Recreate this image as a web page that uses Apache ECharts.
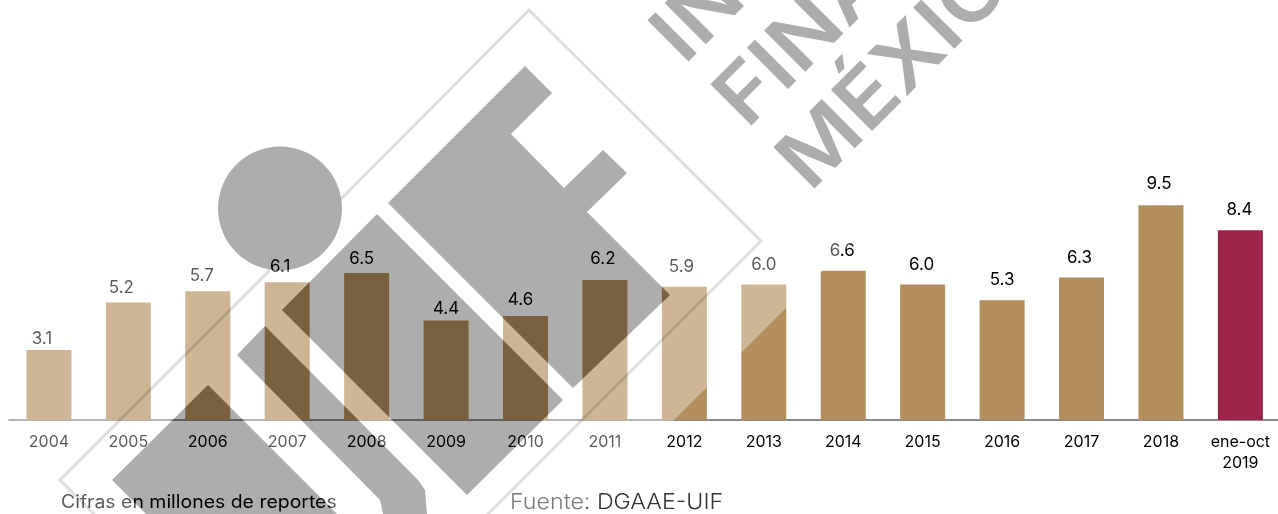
<!DOCTYPE html>
<html><head><meta charset="utf-8">
<style>html,body{margin:0;padding:0;background:#fff;overflow:hidden;width:1278px;height:514px}#c{width:1292px;height:514px}</style>
<script src="https://cdn.jsdelivr.net/npm/echarts@6/dist/echarts.min.js"></script>
</head><body><div id="c"></div>
<script>
const categories = ['2004','2005','2006','2007','2008','2009','2010','2011','2012','2013','2014','2015','2016','2017','2018','ene-oct\n2019'];
const values = [3.1,5.2,5.7,6.1,6.5,4.4,4.6,6.2,5.9,6.0,6.6,6.0,5.3,6.3,9.5,8.4];
const labelNudgeX = [-7,-7,-6,-7,-5,0,-5,-2,-3,0,-1,-1,0,-2,-2,-1];
const labelNudgeY = [2,-1.5,-2,-2,-1,2,-3,-7,-6,-6,-6,-6,-7,-6,-8,-7];
const barColor = '#B38E5D', lastColor = '#9D2449';
const FONT = 'Inter, "Open Sans", sans-serif';

// Watermark geometry (decorative overlay, screen pixels)
const shapeA = [[525,66],[552,93],[511,134],[564,188],[603,150],[627,173],[587,212],[670,295],[573,388],[388,203]];
const shapeB = [[377,214],[563,400],[467,495],[282,310]];
const shapeC = [[237,355],[265,326],[418,480],[425,490],[427,514],[383,514],[380,500]];
const shapeD = [[208,385],[337,514],[146,514],[112,480]];
const circle = []; for (let i=0;i<64;i++){const a=i/64*2*Math.PI; circle.push([280+62*Math.cos(a),208.5+62*Math.sin(a)]);}
const washOuter = [[0,0],[1094,0],[580,514],[0,514]];
const outline = [[341,199],[529,10],[761,241],[291,711],[60,480],[270,270]];

function area(p){let s=0;for(let i=0;i<p.length;i++){const q=p[(i+1)%p.length];s+=p[i][0]*q[1]-q[0]*p[i][1];}return s;}
function sub(p,positive){const r=(area(p)>0)===positive?p:p.slice().reverse();return 'M'+r.map(a=>a[0].toFixed(1)+' '+a[1].toFixed(1)).join('L')+'Z';}
const grays=[shapeA,shapeB,shapeC,shapeD,circle];
const washPath = sub(washOuter,true)+grays.map(s=>sub(s,false)).join('');
const grayPath = grays.map(s=>sub(s,true)).join('');
function bbox(list){const a=list.flat();const xs=a.map(p=>p[0]),ys=a.map(p=>p[1]);const x=Math.min(...xs),y=Math.min(...ys);return {x,y,width:Math.max(...xs)-x,height:Math.max(...ys)-y};}
function overlay(d,box,fill){return {type:'custom',coordinateSystem:'none',z:100,silent:true,data:[0],clip:false,
  renderItem:()=>({type:'path',shape:{pathData:d,layout:'cover',x:box.x,y:box.y,width:box.width,height:box.height},style:{fill},silent:true})};}
function wmText(t,x,y){return {type:'text',x,y,rotation:Math.PI/4,scaleX:1.1,z:101,silent:true,
  style:{text:t,fill:'#adadad',font:'600 80px '+FONT,align:'left',verticalAlign:'middle'}};}

const chart = echarts.init(document.getElementById('c'),null,{renderer:'canvas'});
chart.setOption({
  animation:false,
  backgroundColor:'#fff',
  grid:{left:9.2,width:1270.9,top:194,height:226,containLabel:false},
  xAxis:{type:'category',data:categories,offset:1,
    axisLine:{show:true,lineStyle:{color:'#8a8a8a',width:2}},axisTick:{show:false},
    axisLabel:{color:'#000',fontFamily:FONT,fontSize:16,margin:11,lineHeight:21,interval:0}},
  yAxis:{type:'value',min:0,max:10,show:false,splitLine:{show:false}},
  series:[{type:'bar',barWidth:45,
    data:values.map((v,i)=>({value:v,
      itemStyle:{color:i===values.length-1?lastColor:barColor},
      label:{offset:[labelNudgeX[i],labelNudgeY[i]]}})),
    label:{show:true,position:'top',distance:5,color:'#000',fontFamily:FONT,fontSize:17,
      formatter:p=>p.value.toFixed(1)}},
    overlay(washPath,bbox([washOuter]),'rgba(255,255,255,0.35)'),
    overlay(grayPath,bbox(grays),'rgba(0,0,0,0.32)')],
  graphic:{elements:[
    {type:'text',x:61,y:503,scaleX:1.08,z:50,silent:true,style:{text:'Cifras en millones de reportes',fill:'#000',font:'18px '+FONT,align:'left',verticalAlign:'middle'}},
    {type:'text',x:510,y:502,scaleX:1.055,z:50,silent:true,style:{text:'Fuente: DGAAE-UIF',fill:'#333',font:'300 22px '+FONT,align:'left',verticalAlign:'middle'}},
    {type:'polyline',shape:{points:outline},style:{fill:'none',stroke:'rgba(0,0,0,0.13)',lineWidth:3},z:101,silent:true},
    wmText('INTELIGENCIA',667,49),
    wmText('FINANCIERA',730,113),
    wmText('MÉXICO',793,176)
  ]}
});
</script></body></html>
